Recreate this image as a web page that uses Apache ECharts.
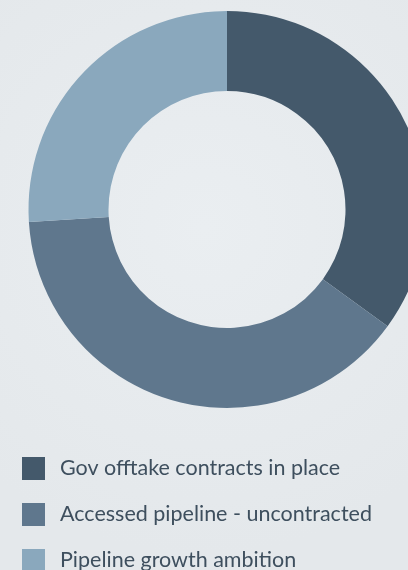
<!DOCTYPE html>
<html>
<head>
<meta charset="utf-8">
<script src="https://cdn.jsdelivr.net/npm/echarts@6/dist/echarts.min.js"></script>
<style>
  html, body { margin: 0; padding: 0; }
  body { background: #e8ecef; }
  #chart { width: 408px; height: 570px; }
</style>
</head>
<body>
<div id="chart"></div>
<script>
// Portfolio split (share of total, %)
const categories = [
  'Gov offtake contracts in place',
  'Accessed pipeline - uncontracted',
  'Pipeline growth ambition'
];
const shares = [35, 39, 26];
const colors = ['#44596b', '#5f778d', '#8aa8bd'];

const chart = echarts.init(document.getElementById('chart'), null, { renderer: 'canvas' });

// One legend block per entry so the list can run down to the bottom edge
const legendRows = categories.map((name, i) => ({
  orient: 'vertical',
  left: 22,
  top: 457 + i * 46,
  padding: 0,
  itemWidth: 23,
  itemHeight: 23,
  icon: 'rect',
  selectedMode: false,
  data: [name],
  textStyle: {
    fontFamily: 'Lato',
    fontSize: 21.5,
    color: '#3e4f5e',
    padding: [0, 0, 0, 10]
  }
}));

chart.setOption({
  backgroundColor: {
    type: 'radial', x: 0.5, y: 0.4, r: 0.8,
    colorStops: [
      { offset: 0, color: '#eaeef1' },
      { offset: 1, color: '#e4e8eb' }
    ]
  },
  animation: false,
  legend: legendRows,
  series: [{
    type: 'pie',
    center: [227, 209.5],
    radius: [118.5, 198.5],
    startAngle: 90,
    clockwise: true,
    label: { show: false },
    labelLine: { show: false },
    emphasis: { disabled: true },
    data: categories.map((name, i) => ({
      name: name,
      value: shares[i],
      itemStyle: { color: colors[i] }
    }))
  }]
});
</script>
</body>
</html>
